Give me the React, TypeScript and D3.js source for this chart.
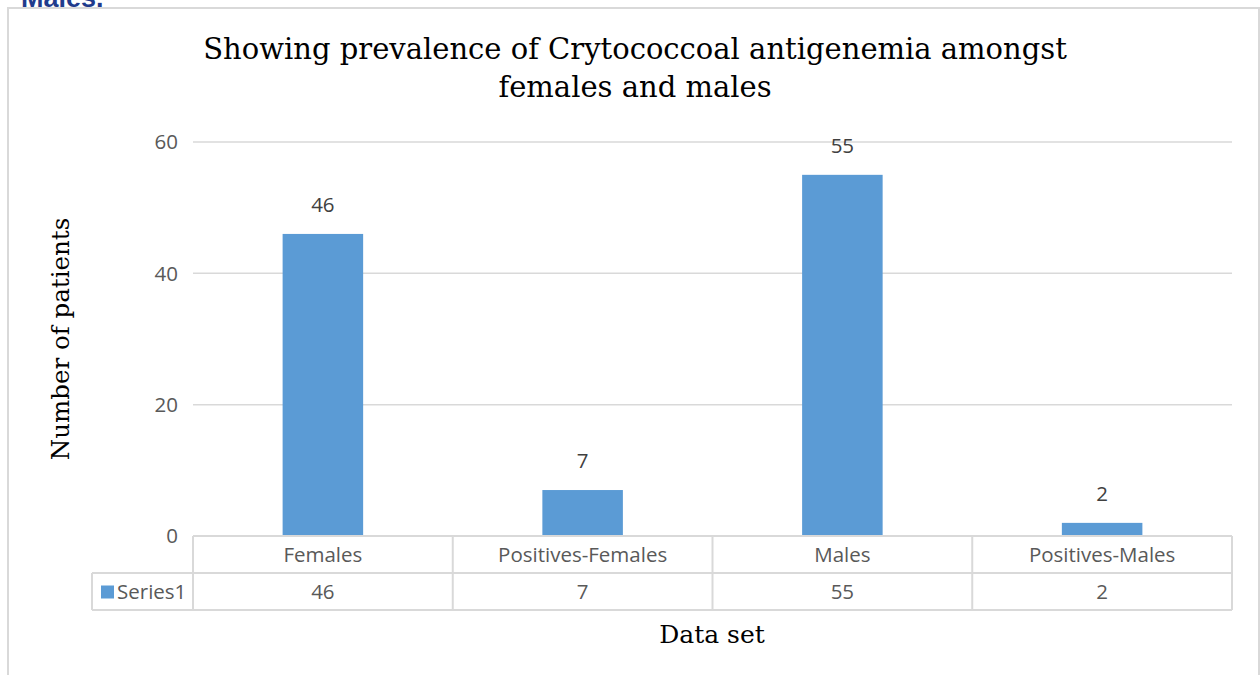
import React from "react";
import * as d3 from "d3";

const categories = ["Females", "Positives-Females", "Males", "Positives-Males"];
const series1 = [46, 7, 55, 2];
const seriesName = "Series1";
const yTicks = [0, 20, 40, 60];

const W = 1260;
const H = 675;
const plotLeft = 193;
const plotRight = 1232;
const plotTop = 142;
const plotBottom = 536;
const rowH = 37;
const tableLeft = 92;
const barColor = "#5b9bd5";
const gridColor = "#d9d9d9";
const textColor = "#595959";
const sans = "'Open Sans', 'Noto Sans', sans-serif";
const serif = "'DejaVu Serif', 'Liberation Serif', serif";

export default function App() {
  const x = d3.scaleBand<string>().domain(categories).range([plotLeft, plotRight]).paddingInner(0).paddingOuter(0);
  const y = d3.scaleLinear().domain([0, 60]).range([plotBottom, plotTop]);
  const barW = x.bandwidth() * 0.31;

  return (
    <svg
      width={W}
      height={H}
      style={{ position: "fixed", left: 0, top: 0, background: "#fff" }}
    >
      {/* document heading that sits above the chart frame */}
      <text x={21} y={7} fontFamily="'Liberation Sans', Arial, sans-serif" fontWeight="bold" fontSize={27} fill="#1f3b8c">
        Males.
      </text>
      {/* chart frame */}
      <rect x={8} y={8} width={1251} height={700} fill="#fff" stroke="#d9d9d9" strokeWidth={2} />

      {/* title */}
      <text textAnchor="middle" fontFamily={serif} fontSize={29} fill="#000">
        <tspan x={635} y={59}>Showing prevalence of Crytococcoal antigenemia amongst</tspan>
        <tspan x={635} y={97}>females and males</tspan>
      </text>

      {/* gridlines and y tick labels */}
      {yTicks.map((t) => (
        <g key={t}>
          {t !== 0 && (
            <line x1={plotLeft} x2={plotRight} y1={y(t)} y2={y(t)} stroke={gridColor} strokeWidth={1.5} />
          )}
          <text x={178} y={y(t)} dy="0.35em" textAnchor="end" fontFamily={sans} fontSize={20.5} fill={textColor}>
            {t}
          </text>
        </g>
      ))}

      {/* bars and value labels */}
      {categories.map((c, i) => {
        const cx = (x(c) as number) + x.bandwidth() / 2;
        return (
          <g key={c}>
            <rect x={cx - barW / 2} y={y(series1[i])} width={barW} height={plotBottom - y(series1[i])} fill={barColor} />
            <text x={cx} y={y(series1[i]) - 22} textAnchor="middle" fontFamily={sans} fontSize={20.5} fill="#404040">
              {series1[i]}
            </text>
          </g>
        );
      })}

      {/* data table */}
      <g stroke={gridColor} strokeWidth={2} fill="none">
        <line x1={plotLeft} x2={plotRight} y1={plotBottom} y2={plotBottom} />
        <line x1={tableLeft} x2={plotRight} y1={plotBottom + rowH} y2={plotBottom + rowH} />
        <line x1={tableLeft} x2={plotRight} y1={plotBottom + rowH * 2} y2={plotBottom + rowH * 2} />
        <line x1={tableLeft} x2={tableLeft} y1={plotBottom + rowH} y2={plotBottom + rowH * 2} />
        {categories.map((c) => (
          <line key={c} x1={x(c)} x2={x(c)} y1={plotBottom} y2={plotBottom + rowH * 2} />
        ))}
        <line x1={plotRight} x2={plotRight} y1={plotBottom} y2={plotBottom + rowH * 2} />
      </g>
      {categories.map((c, i) => {
        const cx = (x(c) as number) + x.bandwidth() / 2;
        return (
          <g key={c} fontFamily={sans} fontSize={20.5} fill={textColor} textAnchor="middle">
            <text x={cx} y={plotBottom + rowH / 2} dy="0.35em">{c}</text>
            <text x={cx} y={plotBottom + rowH * 1.5} dy="0.35em">{series1[i]}</text>
          </g>
        );
      })}
      <rect x={101} y={plotBottom + rowH * 1.5 - 6} width={13} height={13} fill={barColor} />
      <text x={117} y={plotBottom + rowH * 1.5} dy="0.35em" fontFamily={sans} fontSize={20.5} fill={textColor}>
        {seriesName}
      </text>

      {/* axis titles */}
      <text x={712} y={643} textAnchor="middle" fontFamily={serif} fontSize={25} fill="#000">
        Data set
      </text>
      <text transform={`translate(69,339) rotate(-90)`} textAnchor="middle" fontFamily={serif} fontSize={24.5} fill="#000">
        Number of patients
      </text>
    </svg>
  );
}
